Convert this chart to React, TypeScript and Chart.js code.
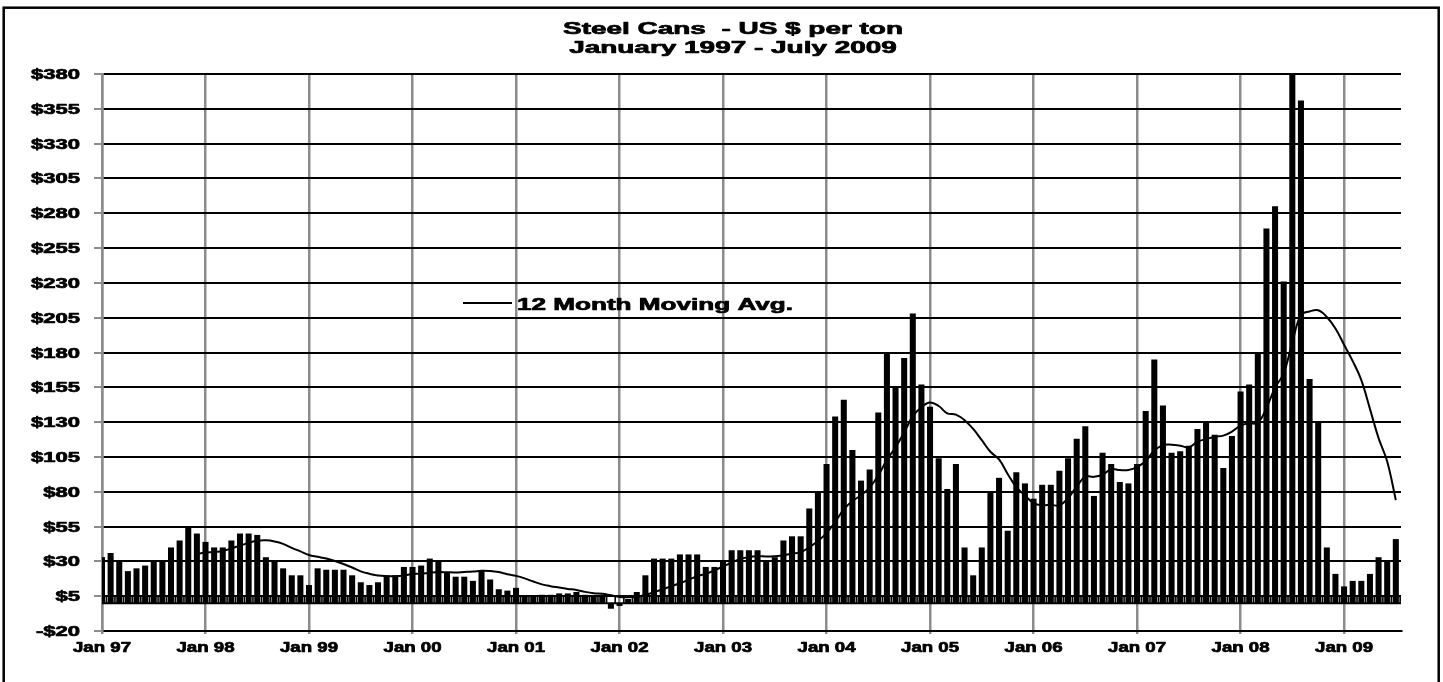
import React, { useEffect, useRef } from "react";
import { Chart, registerables } from "chart.js";

Chart.register(...registerables);

// Monthly steel can price, US $ per ton, Jan 1997 - Jul 2009
const prices1997 = [33, 36, 30, 23, 25, 27, 30, 30, 40, 45, 55, 50];
const prices1998 = [44, 40, 40, 45, 50, 50, 49, 33, 30, 25, 20, 20];
const prices1999 = [13, 25, 24, 24, 24, 20, 15, 13, 15, 20, 20, 26];
const prices2000 = [26, 27, 32, 30, 22, 19, 19, 16, 23, 17, 10, 9];
const prices2001 = [11, 5, 5, 6, 6, 7, 7, 8, 6, 5, 5, -4];
const prices2002 = [-2, 3, 8, 20, 32, 32, 32, 35, 35, 35, 26, 26];
const prices2003 = [31, 38, 38, 38, 38, 30, 33, 45, 48, 48, 68, 80];
const prices2004 = [100, 134, 146, 110, 88, 96, 137, 180, 156, 176, 208, 157];
const prices2005 = [141, 104, 82, 100, 40, 20, 40, 80, 90, 52, 94, 86];
const prices2006 = [75, 85, 85, 95, 104, 118, 127, 77, 108, 100, 87, 86];
const prices2007 = [100, 138, 175, 142, 108, 109, 113, 125, 130, 121, 97, 120];
const prices2008 = [152, 157, 180, 269, 285, 231, 380, 361, 161, 130, 40, 21];
const prices2009 = [12, 16, 16, 21, 33, 31, 46];

// 12 month moving average
const ma1997 = [null, null, null, null, null, null, null, null, null, null, null, 35.3];
const ma1998 = [36.3, 36.6, 37.4, 39.3, 41.3, 43.3, 44.8, 45.1, 44.3, 42.6, 39.7, 37.2];
const ma1999 = [34.6, 33.3, 32.0, 30.3, 28.1, 25.6, 22.8, 21.1, 19.8, 19.4, 19.4, 19.9];
const ma2000 = [21.0, 21.2, 21.8, 22.3, 22.2, 22.1, 22.4, 22.7, 23.3, 23.1, 22.3, 20.8];
const ma2001 = [19.6, 17.8, 15.5, 13.5, 12.2, 11.2, 10.2, 9.5, 8.1, 7.1, 6.7, 5.6];
const ma2002 = [4.5, 4.3, 4.6, 5.8, 7.9, 10.0, 12.1, 14.3, 16.8, 19.3, 21.0, 23.5];
const ma2003 = [26.3, 29.2, 31.7, 33.2, 33.7, 33.5, 33.6, 34.4, 35.5, 36.6, 40.1, 44.6];
const ma2004 = [50.3, 58.3, 67.3, 73.3, 77.5, 83.0, 91.7, 102.9, 111.9, 122.6, 134.3, 140.7];
const ma2005 = [144.1, 141.6, 136.3, 135.4, 131.4, 125.1, 117.0, 108.7, 103.2, 92.8, 83.3, 77.4];
const ma2006 = [71.9, 70.3, 70.6, 70.2, 75.5, 83.7, 90.9, 90.7, 92.2, 96.2, 95.6, 95.6];
const ma2007 = [97.7, 102.1, 109.6, 113.5, 113.8, 113.1, 111.9, 115.9, 117.8, 119.5, 120.3, 123.2];
const ma2008 = [127.5, 129.1, 129.5, 140.1, 154.8, 165.0, 187.3, 206.9, 209.5, 210.3, 205.5, 197.3];
const ma2009 = [185.6, 173.8, 160.2, 139.5, 118.5, 101.8, 74.0];

const yearLabels = ["Jan 97", "Jan 98", "Jan 99", "Jan 00", "Jan 01", "Jan 02", "Jan 03", "Jan 04", "Jan 05", "Jan 06", "Jan 07", "Jan 08", "Jan 09"];
const yTickValues = [-20, 5, 30, 55, 80, 105, 130, 155, 180, 205, 230, 255, 280, 305, 330, 355, 380];

const titleLines = ["Steel Cans  - US $ per ton", "January 1997 - July 2009"];
const maLabel = "12 Month Moving Avg.";

const prices = [
  ...prices1997, ...prices1998, ...prices1999, ...prices2000, ...prices2001, ...prices2002, ...prices2003,
  ...prices2004, ...prices2005, ...prices2006, ...prices2007, ...prices2008, ...prices2009,
];
const movingAvg = [
  ...ma1997, ...ma1998, ...ma1999, ...ma2000, ...ma2001, ...ma2002, ...ma2003,
  ...ma2004, ...ma2005, ...ma2006, ...ma2007, ...ma2008, ...ma2009,
];

const FONT = "'Liberation Sans', Arial, sans-serif";

function stretchText(ctx: CanvasRenderingContext2D, text: string, x: number, baseline: number, size: number, sx: number, align: string) {
  ctx.save();
  ctx.font = `bold ${size}px ${FONT}`;
  ctx.fillStyle = "#000";
  ctx.strokeStyle = "#000";
  ctx.lineJoin = "round";
  ctx.textBaseline = "alphabetic";
  ctx.textAlign = "left";
  const w = ctx.measureText(text).width * sx;
  const left = align === "center" ? x - w / 2 : align === "right" ? x - w : x;
  ctx.translate(left, baseline);
  ctx.scale(sx, 1);
  ctx.lineWidth = 0.7;
  ctx.fillText(text, 0, 0);
  ctx.strokeText(text, 0, 0);
  ctx.restore();
}

function factor(ctx: CanvasRenderingContext2D, text: string, size: number, target: number) {
  ctx.save();
  ctx.font = `bold ${size}px ${FONT}`;
  const w = ctx.measureText(text).width;
  ctx.restore();
  return target / w;
}

const zeroAxisPlugin = {
  id: "zeroAxis",
  beforeDatasetsDraw(chart: any) {
    const { ctx, chartArea, scales } = chart;
    const xs = scales.x;
    const ys = scales.y;
    const y0 = ys.getPixelForValue(0);
    const y5 = ys.getPixelForValue(5);
    ctx.save();
    ctx.beginPath();
    ctx.rect(chartArea.left, chartArea.top, chartArea.right - chartArea.left, chartArea.bottom - chartArea.top);
    ctx.clip();
    ctx.strokeStyle = "#000";
    ctx.lineWidth = 2;
    ctx.beginPath();
    ctx.moveTo(chartArea.left, y0);
    ctx.lineTo(chartArea.right, y0);
    ctx.stroke();
    ctx.lineWidth = 1.6;
    for (let i = 0; i < prices.length; i++) {
      const x = xs.getPixelForValue(i + 0.5);
      ctx.beginPath();
      ctx.moveTo(x, y0);
      ctx.lineTo(x, y5);
      ctx.stroke();
    }
    ctx.restore();
  },
};

const textPlugin = {
  id: "texts",
  afterDraw(chart: any) {
    const { ctx, scales } = chart;
    const xs = scales.x;
    const ys = scales.y;

    // Title
    const tf = factor(ctx, titleLines[0], 17, 340);
    stretchText(ctx, titleLines[0], 733, 34, 17, tf, "center");
    stretchText(ctx, titleLines[1], 733, 53, 17, tf, "center");

    // Y labels
    const yf = factor(ctx, "$380", 14, 49);
    yTickValues.forEach((v) => {
      const label = v < 0 ? `-$${Math.abs(v)}` : `$${v}`;
      stretchText(ctx, label, 80, ys.getPixelForValue(v) + 5, 14, yf, "right");
    });

    // X labels
    const xf = factor(ctx, "Jan 97", 14, 58);
    yearLabels.forEach((lab, k) => {
      stretchText(ctx, lab, xs.getPixelForValue(k * 12), 652, 14, xf, "center");
    });

    // Legend
    ctx.save();
    ctx.strokeStyle = "#000";
    ctx.lineWidth = 2;
    ctx.beginPath();
    ctx.moveTo(463, 303);
    ctx.lineTo(512, 303);
    ctx.stroke();
    ctx.restore();
    const lf = factor(ctx, maLabel, 16, 276);
    stretchText(ctx, maLabel, 517, 309.5, 16, lf, "left");

    // Outer frame
    ctx.save();
    ctx.strokeStyle = "#000";
    ctx.lineWidth = 2.5;
    ctx.strokeRect(3.7, 7.7, 1435, 700);
    ctx.restore();
  },
};

export default function App() {
  const ref = useRef<HTMLCanvasElement | null>(null);

  useEffect(() => {
    document.body.style.margin = "0";
    const canvas = ref.current;
    if (!canvas) return;
    const barData = prices.map((v, i) => ({ x: i, y: v }));
    const lineData = movingAvg
      .map((v, i) => (v == null ? null : { x: i, y: v }))
      .filter((p) => p !== null);

    const chart = new Chart(canvas, {
      type: "bar",
      data: {
        datasets: [
          {
            type: "line",
            label: maLabel,
            data: lineData as any,
            borderColor: "#000",
            borderWidth: 2,
            pointRadius: 0,
            tension: 0.4,
            fill: false,
            order: 0,
          } as any,
          {
            type: "bar",
            label: "Steel Cans",
            data: barData as any,
            backgroundColor: "#000",
            borderWidth: 0,
            barPercentage: 0.7,
            categoryPercentage: 1,
            order: 1,
          } as any,
        ],
      },
      options: {
        animation: false,
        responsive: false,
        devicePixelRatio: 1,
        layout: { padding: { left: 0, top: 74, right: 42, bottom: 0 } },
        plugins: {
          legend: { display: false },
          title: { display: false },
          tooltip: { enabled: false },
        },
        scales: {
          x: {
            type: "linear",
            offset: false,
            min: 0,
            max: 150.6,
            afterBuildTicks: (s: any) => {
              s.ticks = yearLabels.map((_, k) => ({ value: k * 12 }));
            },
            afterFit: (s: any) => {
              s.height = 51;
            },
            ticks: { display: false },
            grid: { offset: false, color: "#8c8c8c", lineWidth: 2.5, drawTicks: true, tickLength: 3 },
            border: { display: true, color: "#000", width: 2 },
          },
          y: {
            type: "linear",
            min: -20,
            max: 380,
            afterBuildTicks: (s: any) => {
              s.ticks = yTickValues.map((v) => ({ value: v }));
            },
            afterFit: (s: any) => {
              s.width = 102;
            },
            ticks: { display: false },
            grid: { color: "#000", lineWidth: 2, drawTicks: true, tickLength: 8, tickColor: "#8c8c8c", tickWidth: 2 },
            border: { display: true, color: "#8c8c8c", width: 2.5 },
          },
        },
      } as any,
      plugins: [zeroAxisPlugin, textPlugin],
    });
    return () => chart.destroy();
  }, []);

  return (
    <div style={{ width: 1443, height: 682, position: "relative", background: "#fff" }}>
      <canvas ref={ref} width={1443} height={682} style={{ display: "block" }} />
    </div>
  );
}
